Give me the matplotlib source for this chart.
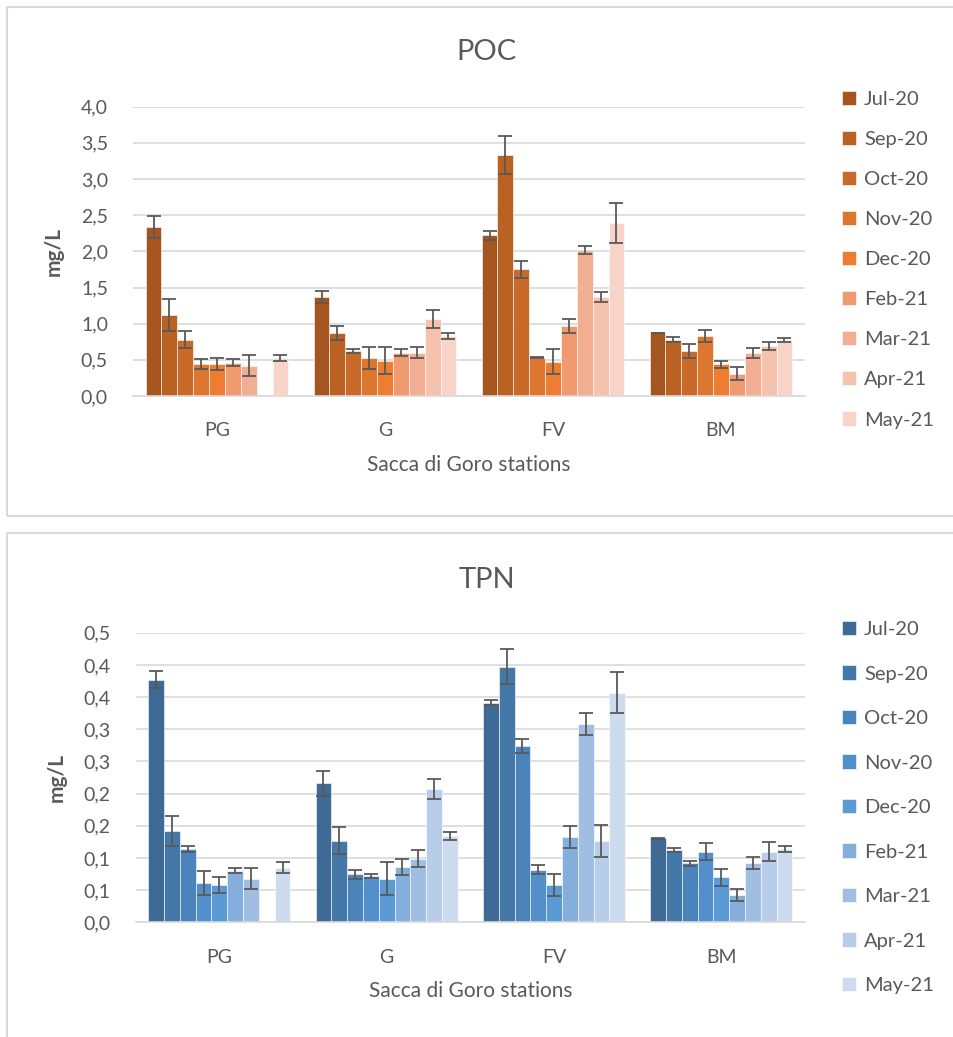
import numpy as np
import matplotlib
matplotlib.use("Agg")
import matplotlib.pyplot as plt
from matplotlib.patches import Rectangle

nan = np.nan
stations = ["PG", "G", "FV", "BM"]
months = ["Jul-20", "Sep-20", "Oct-20", "Nov-20", "Dec-20", "Feb-21", "Mar-21", "Apr-21", "May-21"]

# POC (mg/L): per station, values by month
poc_PG = [2.34, 1.12, 0.78, 0.44, 0.44, 0.46, 0.42, nan, 0.53]
poc_PG_err = [0.15, 0.22, 0.12, 0.07, 0.08, 0.05, 0.14, nan, 0.04]
poc_G = [1.365, 0.87, 0.62, 0.53, 0.49, 0.60, 0.60, 1.06, 0.83]
poc_G_err = [0.08, 0.10, 0.03, 0.15, 0.19, 0.05, 0.08, 0.125, 0.045]
poc_FV = [2.22, 3.33, 1.75, 0.53, 0.475, 0.97, 2.02, 1.365, 2.39]
poc_FV_err = [0.065, 0.26, 0.12, 0.003, 0.175, 0.10, 0.05, 0.07, 0.28]
poc_BM = [0.87, 0.78, 0.62, 0.83, 0.44, 0.31, 0.60, 0.69, 0.775]
poc_BM_err = [0.005, 0.03, 0.10, 0.085, 0.05, 0.09, 0.07, 0.05, 0.03]

# TPN (mg/L)
tpn_PG = [0.377, 0.142, 0.114, 0.061, 0.058, 0.080, 0.068, nan, 0.085]
tpn_PG_err = [0.013, 0.023, 0.005, 0.019, 0.012, 0.004, 0.016, nan, 0.009]
tpn_G = [0.216, 0.127, 0.0745, 0.0715, 0.068, 0.086, 0.099, 0.2075, 0.1336]
tpn_G_err = [0.019, 0.021, 0.007, 0.003, 0.026, 0.012, 0.013, 0.0155, 0.006]
tpn_FV = [0.341, 0.397, 0.274, 0.082, 0.058, 0.132, 0.3075, 0.126, 0.357]
tpn_FV_err = [0.004, 0.027, 0.011, 0.007, 0.017, 0.017, 0.017, 0.025, 0.032]
tpn_BM = [0.1305, 0.112, 0.0916, 0.110, 0.070, 0.042, 0.092, 0.110, 0.114]
tpn_BM_err = [0.001, 0.003, 0.004, 0.013, 0.0135, 0.0095, 0.0095, 0.0155, 0.005]

poc_ticks = [0.0, 0.5, 1.0, 1.5, 2.0, 2.5, 3.0, 3.5, 4.0]
poc_ticklabels = ["0,0", "0,5", "1,0", "1,5", "2,0", "2,5", "3,0", "3,5", "4,0"]
tpn_ticks = [0.0, 0.05, 0.10, 0.15, 0.20, 0.25, 0.30, 0.35, 0.40, 0.45]
tpn_ticklabels = ["0,0", "0,1", "0,1", "0,2", "0,2", "0,3", "0,3", "0,4", "0,4", "0,5"]

orange_colors = ["#A5551F", "#BA6124", "#CA6A2A", "#DD762F", "#ED7D31",
                 "#F09A6F", "#F2AE93", "#F5C2AE", "#F7D3C8"]
blue_colors = ["#3E6A95", "#4478A9", "#4B84BB", "#528FCB", "#5B9BD5",
               "#84AEDC", "#A0BDE2", "#B8CDE9", "#CCDBEE"]

FONT = "Lato"
TXT = "#595959"
GRID = "#D9D9D9"

W, H = 954, 1037
fig = plt.figure(figsize=(W / 100, H / 100), dpi=100)


def fx(px):
    return px / W


def fy(py):
    return 1 - py / H


# panel borders
for (y0, y1) in [(7, 516), (533, 1045)]:
    fig.patches.append(Rectangle((fx(7), fy(y1)), fx(960) - fx(7), fy(y0) - fy(y1),
                                 transform=fig.transFigure, fill=False,
                                 edgecolor=GRID, linewidth=1.5, zorder=0))


def draw(ax_rect, series, errs, colors, ylim, ticks, ticklabels, title, title_y,
         legend_top, legend_spacing):
    ax = fig.add_axes(ax_rect)
    n = len(months)
    group = 0.85
    w = group / n
    x = np.arange(len(stations))
    data = np.array(series).T  # months x stations
    err = np.array(errs).T
    for j in range(n):
        ax.bar(x + (j - (n - 1) / 2) * w, data[j], w, color=colors[j],
               edgecolor="white", linewidth=0.4, label=months[j], zorder=2,
               yerr=err[j], error_kw=dict(ecolor="#595959", elinewidth=1.3,
                                           capsize=5.2, capthick=1.3, zorder=3))
    ax.set_xlim(-0.5, len(stations) - 0.5)
    ax.set_ylim(*ylim)
    ax.set_yticks(ticks)
    ax.set_yticklabels(ticklabels)
    ax.set_xticks(x)
    ax.set_xticklabels(stations)
    for s in ["top", "right", "left"]:
        ax.spines[s].set_visible(False)
    ax.spines["bottom"].set_color(GRID)
    ax.spines["bottom"].set_linewidth(1.2)
    ax.yaxis.grid(True, color=GRID, linewidth=1.2, zorder=0)
    ax.set_axisbelow(True)
    ax.tick_params(axis="both", length=0, labelsize=14, labelcolor=TXT)
    ax.tick_params(axis="y", pad=18)
    ax.tick_params(axis="x", pad=19)
    for lab in ax.get_xticklabels() + ax.get_yticklabels():
        lab.set_fontfamily(FONT)
    ax.set_ylabel("mg/L", fontsize=15, fontweight="bold", color=TXT,
                  fontfamily=FONT, labelpad=12)
    ax.set_xlabel("Sacca di Goro stations", fontsize=15, color=TXT,
                  fontfamily=FONT, labelpad=11)
    fig.text(fx(487), fy(title_y), title, fontsize=21, color=TXT,
             fontfamily=FONT, ha="center", va="center")
    handles, labels = ax.get_legend_handles_labels()
    leg = fig.legend(handles, labels, loc="upper left",
                     bbox_to_anchor=(fx(842), fy(legend_top)),
                     bbox_transform=fig.transFigure, frameon=False,
                     prop=dict(family=FONT, size=14.5),
                     handlelength=0.7, handleheight=0.7, handletextpad=0.4,
                     labelspacing=legend_spacing, borderpad=0, borderaxespad=0)
    for t in leg.get_texts():
        t.set_color(TXT)
    return ax


draw([fx(133), fy(396), fx(805) - fx(133), fy(106.7) - fy(396)],
     [poc_PG, poc_G, poc_FV, poc_BM], [poc_PG_err, poc_G_err, poc_FV_err, poc_BM_err],
     orange_colors, (0, 4.0), poc_ticks, poc_ticklabels, "POC", 52, 91, 1.14)

draw([fx(135.7), fy(922.3), fx(805) - fx(135.7), fy(632.7) - fy(922.3)],
     [tpn_PG, tpn_G, tpn_FV, tpn_BM], [tpn_PG_err, tpn_G_err, tpn_FV_err, tpn_BM_err],
     blue_colors, (0, 0.45), tpn_ticks, tpn_ticklabels, "TPN", 580, 621, 1.36)

fig.savefig("out.png", dpi=100, facecolor="white")
